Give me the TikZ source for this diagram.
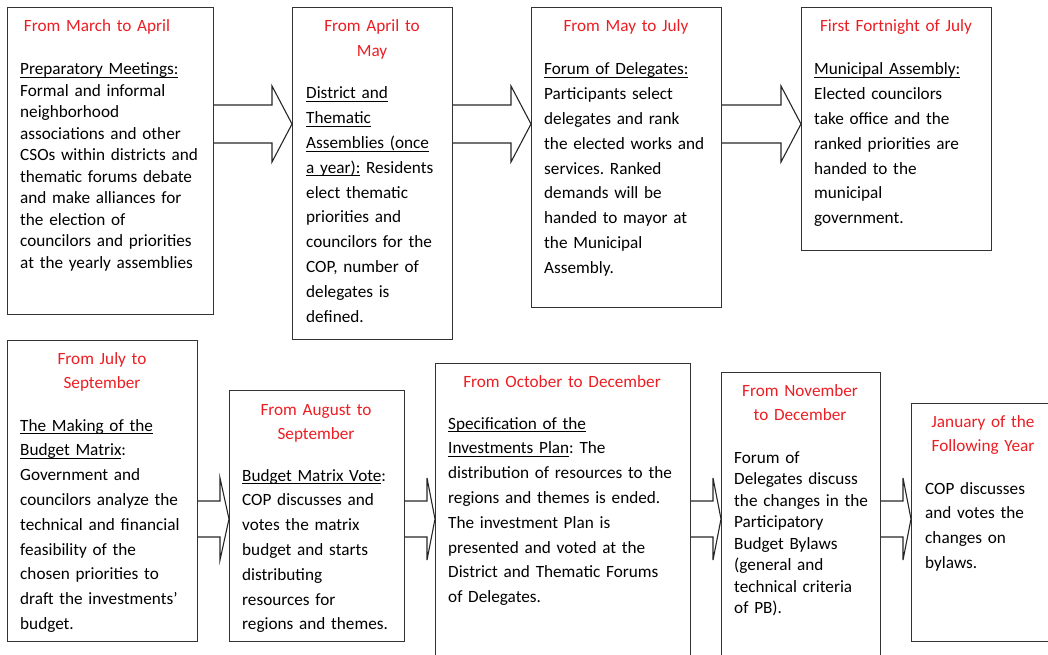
\documentclass[tikz,border=0pt]{standalone}
\usepackage{fontspec}
\setmainfont{Carlito}
\usetikzlibrary{positioning}
\definecolor{tred}{RGB}{235,30,35}
\newcommand{\undl}[1]{\leavevmode\setbox0\hbox{#1}\rlap{\rule[-3pt]{\wd0}{1pt}}\box0\relax}
\frenchspacing

\begin{document}
\begin{tikzpicture}[x=1pt,y=-1pt,
    box/.style={rectangle, draw=black!80, line width=1.2pt, inner sep=0pt, anchor=north west},
    when/.style={text=tred, align=center, text width=220pt, inner sep=0pt, anchor=base, font=\fontsize{17.2}{24.8}\selectfont},
    what/.style={align=left, text width=260pt, inner sep=0pt, anchor=base west, font=\fontsize{17.2}{24.8}\selectfont},
    tight/.style={font=\fontsize{17.2}{21.5}\selectfont},
    fat/.style={draw=black!85, line width=1.1pt, line join=miter}]
    \useasboundingbox (0,0) rectangle (1048,655);
    \clip (0,0) rectangle (1048,655);

    % boxes
    \node[box, minimum width=206pt, minimum height=307pt] (p1) at (7,7) {};
    \node[box, minimum width=160pt, minimum height=332pt] (p2) at (292,7) {};
    \node[box, minimum width=190pt, minimum height=300pt] (p3) at (531,7) {};
    \node[box, minimum width=190pt, minimum height=243pt] (p4) at (801,7) {};
    \node[box, minimum width=190pt, minimum height=301pt] (p5) at (7,340) {};
    \node[box, minimum width=175pt, minimum height=251pt] (p6) at (229,390) {};
    \node[box, minimum width=255pt, minimum height=310pt] (p7) at (435,363) {};
    \node[box, minimum width=159pt, minimum height=300pt] (p8) at (721,372) {};
    \node[box, minimum width=150pt, minimum height=238pt] (p9) at (911,403) {};

    % periods
    \node[when] (t1) at (97,32)  {From March to April};
    \node[when] (t2) at (372,32) {From April to\\May};
    \node[when] (t3) at (626,32) {From May to July};
    \node[when] (t4) at (896,32) {First Fortnight of July};
    \node[when] (t5) at (102,364) {From July to\\September};
    \node[when] (t6) at (316,415) {From August to\\September};
    \node[when] (t7) at (562,387) {From October to December};
    \node[when] (t8) at (800,396) {From November\\to December};
    \node[when] (t9) at (983,427) {January of the\\Following Year};

    % contents
    \node[what, tight] (d1) at (20,75) {\undl{Preparatory Meetings:}\\Formal and informal\\neighborhood\\associations and other\\CSOs within districts and\\thematic forums debate\\and make alliances for\\the election of\\councilors and priorities\\at the yearly assemblies};
    \node[what] (d2) at (306,99) {\undl{District and}\\\undl{Thematic}\\\undl{Assemblies (once}\\\undl{a year):} Residents\\elect thematic\\priorities and\\councilors for the\\COP, number of\\delegates is\\defined.};
    \node[what] (d3) at (544,75) {\undl{Forum of Delegates:}\\Participants select\\delegates and rank\\the elected works and\\services. Ranked\\demands will be\\handed to mayor at\\the Municipal\\Assembly.};
    \node[what] (d4) at (814,75) {\undl{Municipal Assembly:}\\Elected councilors\\take office and the\\ranked priorities are\\handed to the\\municipal\\government.};
    \node[what] (d5) at (20,431) {\undl{The Making of the}\\\undl{Budget Matrix}:\\Government and\\councilors analyze the\\technical and financial\\feasibility of the\\chosen priorities to\\draft the investments’\\budget.};
    \node[what] (d6) at (242,481) {\undl{Budget Matrix Vote}:\\COP discusses and\\votes the matrix\\budget and starts\\distributing\\resources for\\regions and themes.};
    \node[what] (d7) at (448,429) {\undl{Specification of the}\\\undl{Investments Plan}: The\\distribution of resources to the\\regions and themes is ended.\\The investment Plan is\\presented and voted at the\\District and Thematic Forums\\of Delegates.};
    \node[what, tight] (d8) at (734,463) {Forum of\\Delegates discuss\\the changes in the\\Participatory\\Budget Bylaws\\(general and\\technical criteria\\of PB).};
    \node[what] (d9) at (925,494) {COP discusses\\and votes the\\changes on\\bylaws.};

    % block arrows: from/to/tip y/head length/head half/shaft half
    \foreach \a/\b/\y/\h/\w/\s in {p1/p2/124/20/38/19, p2/p3/124/20/38/19, p3/p4/124/20/38/19,
                                   p5/p6/519/9/41/18, p6/p7/519/8/41/18, p7/p8/519/8/41/18, p8/p9/519/8/41/18} {
        \coordinate (tip) at (\b.west |- 0,\y);
        \coordinate (src) at (\a.east |- 0,\y);
        \draw[fat] ([yshift=\s pt]src) -- ([xshift=-\h pt,yshift=\s pt]tip)
            -- ([xshift=-\h pt,yshift=\w pt]tip) -- (tip)
            -- ([xshift=-\h pt,yshift=-\w pt]tip) -- ([xshift=-\h pt,yshift=-\s pt]tip)
            -- ([yshift=-\s pt]src);
    }
\end{tikzpicture}
\end{document}
